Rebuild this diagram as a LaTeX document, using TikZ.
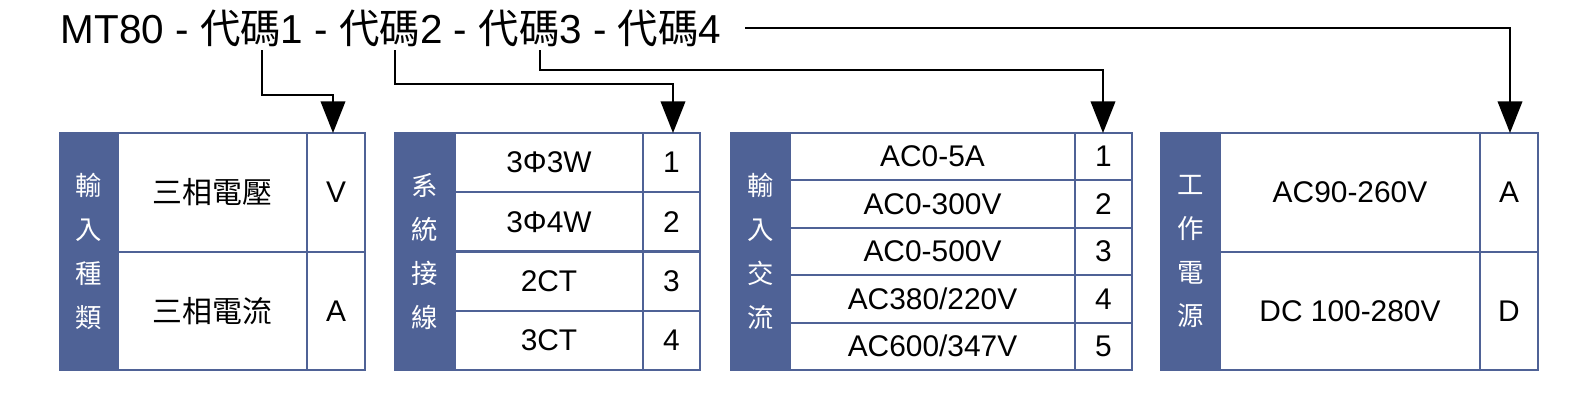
\documentclass[tikz,border=0pt]{standalone}
\usepackage{fontspec}
\setmainfont{Liberation Sans}
\newfontfamily\cjk{Noto Sans CJK TC}
\usetikzlibrary{arrows.meta}
\definecolor{hdblue}{HTML}{4F6296}
\newcommand{\cellnode}[6]{%
  \node[cellbox,#6, minimum width={((#4)-(#2))*0.01cm}, minimum height={((#5)-(#3))*0.01cm}]
    (#1) at ({((#2)+(#4))/2},{((#3)+(#5))/2}) {};}
\begin{document}
\begin{tikzpicture}[
    x=0.01cm, y=-0.01cm,
    font=\fontsize{8.5pt}{10pt}\selectfont,
    cellbox/.style={draw=hdblue, line width=0.6pt, inner sep=0pt, outer sep=0pt},
    headcell/.style={fill=hdblue},
    headtext/.style={text=white, align=center, font=\cjk\fontsize{7.5pt}{12.5pt}\selectfont},
    cjktext/.style={font=\cjk\fontsize{8.5pt}{10pt}\selectfont},
    codearrow/.style={line width=0.5pt, -{Triangle[length=9pt,width=7pt]}}
]
    \useasboundingbox (0,0) rectangle (1572,409);

    % title line
    \node[anchor=west, font=\fontsize{11.5pt}{13pt}\selectfont, inner sep=0pt] (title) at (60,28)
      {MT80 - {\cjk 代碼}1 - {\cjk 代碼}2 - {\cjk 代碼}3 - {\cjk 代碼}4};

    % table 1
    \cellnode{hA}{60}{133}{118}{370}{headcell}
    \node[headtext] at (hA) {輸\\入\\種\\類};
    \cellnode{a1}{118}{133}{307}{252}{}
    \cellnode{a2}{118}{252}{307}{370}{}
    \cellnode{ca1}{307}{133}{365}{252}{}
    \cellnode{ca2}{307}{252}{365}{370}{}
    \node[cjktext] at (a1) {三相電壓};
    \node[cjktext] at (a2) {三相電流};
    \node at (ca1) {V};
    \node at (ca2) {A};

    % table 2
    \cellnode{hB}{395}{133}{455}{370}{headcell}
    \node[headtext] at (hB) {系\\統\\接\\線};
    \foreach \i/\t [count=\k from 0] in {1/3Φ3W,2/3Φ4W,3/2CT,4/3CT}{
      \cellnode{b\i}{455}{133+\k*59.25}{643}{133+(\k+1)*59.25}{}
      \cellnode{cb\i}{643}{133+\k*59.25}{700}{133+(\k+1)*59.25}{}
      \node at (b\i) {\t};
      \node at (cb\i) {\i};
    }

    % table 3
    \cellnode{hC}{731}{133}{790}{370}{headcell}
    \node[headtext] at (hC) {輸\\入\\交\\流};
    \foreach \i/\t [count=\k from 0] in {1/{AC0-5A},2/{AC0-300V},3/{AC0-500V},4/{AC380/220V},5/{AC600/347V}}{
      \cellnode{c\i}{790}{133+\k*47.4}{1075}{133+(\k+1)*47.4}{}
      \cellnode{cc\i}{1075}{133+\k*47.4}{1132}{133+(\k+1)*47.4}{}
      \node at (c\i) {\t};
      \node at (cc\i) {\i};
    }

    % table 4
    \cellnode{hD}{1161}{133}{1220}{370}{headcell}
    \node[headtext] at (hD) {工\\作\\電\\源};
    \cellnode{d1}{1220}{133}{1480}{252}{}
    \cellnode{d2}{1220}{252}{1480}{370}{}
    \cellnode{cd1}{1480}{133}{1538}{252}{}
    \cellnode{cd2}{1480}{252}{1538}{370}{}
    \node at (d1) {AC90-260V};
    \node at (d2) {DC 100-280V};
    \node at (cd1) {A};
    \node at (cd2) {D};

    % code arrows
    \coordinate (s1) at (262,50);
    \coordinate (s2) at (395,50);
    \coordinate (s3) at (540,50);
    \coordinate (s4) at (745,28);
    \draw[codearrow] (s1) |- (333,95) -- (ca1.north -| 333,0);
    \draw[codearrow] (s2) |- (673,84) -- (cb1.north -| 673,0);
    \draw[codearrow] (s3) |- (1103,70) -- (cc1.north -| 1103,0);
    \draw[codearrow] (s4) -- (1510,28) -- (cd1.north -| 1510,0);
\end{tikzpicture}
\end{document}
